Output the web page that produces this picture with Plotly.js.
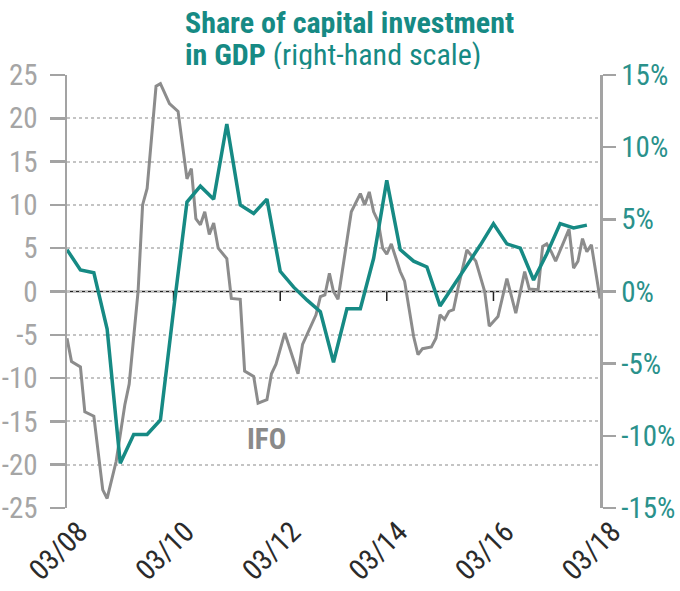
<!DOCTYPE html>
<html>
<head>
<meta charset="utf-8">
<script src="https://cdn.plot.ly/plotly-3.0.1.min.js"></script>
<style>
  html, body { margin: 0; padding: 0; background: #fff; }
  #chart { width: 680px; height: 591px; }
</style>
</head>
<body>
<div id="chart"></div>
<script>
// IFO business climate (left scale), monthly turning points
var ifoDates = ['2008-03','2008-04','2008-06','2008-07','2008-09','2008-11','2008-12','2009-02','2009-04','2009-05',
  '2009-07','2009-08','2009-09','2009-11','2009-12','2010-02','2010-04','2010-06','2010-07','2010-08',
  '2010-09','2010-10','2010-11','2010-12','2011-01','2011-03','2011-04','2011-06','2011-07','2011-09',
  '2011-10','2011-12','2012-01','2012-02','2012-04','2012-07','2012-08','2012-09','2012-11','2012-12',
  '2013-01','2013-02','2013-03','2013-04','2013-06','2013-07','2013-09','2013-10','2013-11','2013-12',
  '2014-01','2014-02','2014-03','2014-04','2014-06','2014-07','2014-08','2014-09','2014-10','2014-11',
  '2015-01','2015-02','2015-03','2015-04','2015-05','2015-06','2015-07','2015-09','2015-11','2016-01',
  '2016-02','2016-04','2016-06','2016-08','2016-10','2016-11','2017-01','2017-02','2017-03','2017-04',
  '2017-05','2017-08','2017-09','2017-10','2017-11','2017-12','2018-01','2018-03'];
var ifoValues = [-5.4,-8.1,-8.7,-13.9,-14.4,-22.9,-23.9,-19.6,-13.1,-10.7,
  0,10.0,11.9,23.7,24.0,21.7,20.8,13.0,14.2,8.4,
  7.7,9.2,6.6,7.9,5.0,3.8,-0.8,-0.9,-9.2,-9.8,
  -12.9,-12.5,-9.5,-8.4,-4.8,-9.5,-6.1,-5.0,-2.7,-0.6,
  -0.4,2.1,0,-0.9,5.8,9.2,11.3,10.0,11.5,9.2,
  8.1,5.0,4.3,5.5,2.3,1.2,-2.0,-5.2,-7.3,-6.6,
  -6.4,-5.4,-2.7,-3.2,-2.3,-2.1,0.3,4.8,3.5,0,
  -4.0,-2.9,1.5,-2.5,2.3,0.3,0.2,5.2,5.5,4.6,
  3.5,7.2,2.7,3.5,6.1,4.6,5.4,-0.8];

// share of capital investment in GDP (right scale, %), quarterly
var invDates = ['2008-03','2008-06','2008-09','2008-12','2009-03','2009-06','2009-09','2009-12',
  '2010-03','2010-06','2010-09','2010-12','2011-03','2011-06','2011-09','2011-12',
  '2012-03','2012-06','2012-09','2012-12','2013-03','2013-06','2013-09','2013-12',
  '2014-03','2014-06','2014-09','2014-12','2015-03','2015-06','2015-09','2015-12',
  '2016-03','2016-06','2016-09','2016-12','2017-03','2017-06','2017-09','2017-12'];
var invValues = [2.9,1.5,1.3,-2.6,-11.9,-9.9,-9.9,-8.9,
  -1.3,6.2,7.3,6.4,11.6,6.0,5.4,6.4,
  1.4,0.3,-0.6,-1.4,-4.9,-1.2,-1.2,2.3,
  7.7,2.9,2.1,1.7,-1.0,0.4,1.8,3.2,
  4.7,3.3,3.0,0.8,2.6,4.7,4.4,4.6];

// axis ticks
var xTickVals = ['2008-03-01','2010-03-01','2012-03-01','2014-03-01','2016-03-01','2018-03-01'];
var xTickText = ['03/08','03/10','03/12','03/14','03/16','03/18'];
var leftTickVals = [-25,-20,-15,-10,-5,0,5,10,15,20,25];
var leftTickText = ['-25','-20','-15','-10','-5','0','5','10','15','20','25'];
var rightTickVals = [-15,-10,-5,0,5,10,15];
var rightTickText = ['-15%','-10%','-5%','0%','5%','10%','15%'];
var midTicks = ['2010-03-01','2012-03-01','2014-03-01','2016-03-01'];

var teal = '#168a84';
var grey = '#8c8c8c';
var font = 'Roboto Condensed, Open Sans, sans-serif';

var traces = [
  {
    x: ifoDates, y: ifoValues, type: 'scatter', mode: 'lines',
    line: {color: grey, width: 3}, hoverinfo: 'skip'
  },
  {
    x: invDates, y: invValues, type: 'scatter', mode: 'lines', yaxis: 'y2',
    line: {color: teal, width: 3.5}, hoverinfo: 'skip'
  }
];

// small tick marks hanging from the zero line
var shapes = midTicks.map(function (d) {
  return {type: 'line', xref: 'x', yref: 'y', x0: d, x1: d, y0: 0, y1: -1.1,
    line: {color: '#222', width: 1.5}, layer: 'between'};
});
// black zero line running slightly past both axes
shapes.push({type: 'line', xref: 'paper', yref: 'y', x0: -15 / 533, x1: 1 + 13 / 533, y0: 0, y1: 0,
  line: {color: '#222', width: 1.5}, layer: 'between'});

var layout = {
  width: 680, height: 591,
  margin: {l: 67, r: 80, t: 75, b: 83},
  paper_bgcolor: '#fff', plot_bgcolor: '#fff',
  showlegend: false,
  font: {family: font},
  xaxis: {
    type: 'date', range: ['2008-03-01', '2018-03-01'],
    tickvals: xTickVals, ticktext: xTickText, tickangle: -45,
    tickfont: {family: font, size: 29, color: '#2b2b2b'},
    ticklabelshift: 12,
    showgrid: false, zeroline: false, showline: false, ticks: '',
    fixedrange: true
  },
  yaxis: {
    range: [-25, 25], tickvals: leftTickVals, ticktext: leftTickText,
    tickfont: {family: font, size: 29, color: '#a5a5a5'},
    showline: true, linecolor: '#a3a3a3', linewidth: 2.5,
    ticks: 'outside', ticklen: 15, tickwidth: 2.5, tickcolor: '#a3a3a3',
    ticklabelstandoff: 6,
    showgrid: true, gridcolor: '#c4c4c4', gridwidth: 2, griddash: 'dot',
    zeroline: false, fixedrange: true
  },
  yaxis2: {
    overlaying: 'y', side: 'right', range: [-15, 15],
    tickvals: rightTickVals, ticktext: rightTickText,
    tickfont: {family: font, size: 29, color: '#2a918b'},
    showline: true, linecolor: '#a3a3a3', linewidth: 2.5,
    ticks: 'outside', ticklen: 13, tickwidth: 2.5, tickcolor: '#a3a3a3',
    showgrid: false, zeroline: false, fixedrange: true
  },
  shapes: shapes,
  annotations: [
    {
      // title, first line
      xref: 'paper', yref: 'paper', x: (183 - 67) / 533, y: (508 - 22) / 433,
      xanchor: 'left', yanchor: 'middle', showarrow: false, height: 30,
      text: '<b>Share of capital investment</b>',
      font: {family: font, size: 30, color: teal}
    },
    {
      // title, second line
      xref: 'paper', yref: 'paper', x: (183 - 67) / 533, y: (508 - 54) / 433,
      xanchor: 'left', yanchor: 'middle', showarrow: false, height: 30,
      text: '<b>in GDP</b> (right-hand scale)',
      font: {family: font, size: 30, color: teal}
    },
    {
      x: '2011-11-25', y: -17, xref: 'x', yref: 'y', showarrow: false,
      text: '<b>IFO</b>', font: {family: font, size: 29, color: '#8a8a8a'}
    }
  ]
};

Plotly.newPlot('chart', traces, layout, {displayModeBar: false, staticPlot: true});
</script>
</body>
</html>
